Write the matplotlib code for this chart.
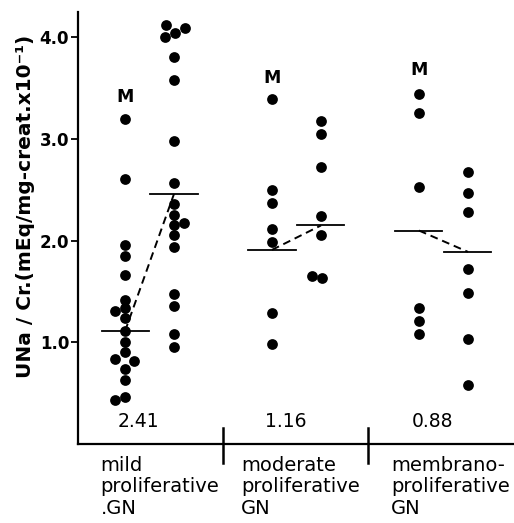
import matplotlib
matplotlib.use("Agg")
import matplotlib.pyplot as plt

# ---------------- data ----------------
groups = ["mild\nproliferative\n.GN", "moderate\nproliferative\nGN", "membrano-\nproliferative\nGN"]
ratios = ["2.41", "1.16", "0.88"]

mild_M = [3.20, 2.61, 1.96, 1.85, 1.66, 1.42, 1.34, 1.31, 1.24, 1.11, 1.00,
          0.91, 0.84, 0.82, 0.74, 0.63, 0.46, 0.43]
mild_M_jit = [0, 0, 0, 0, 0, 0, 0, -0.2, 0, 0, 0, 0, -0.2, 0.18, 0, 0, 0, -0.2]
mild_2 = [4.12, 4.09, 4.04, 4.00, 3.81, 3.58, 2.98, 2.57, 2.36, 2.25, 2.17,
          2.15, 2.06, 1.94, 1.48, 1.36, 1.08, 0.95]
mild_2_jit = [-0.16, 0.22, 0.02, -0.18, 0, 0, 0, 0, 0, 0, 0.2, 0, 0, 0, 0, 0, 0, 0]

moderate_M = [3.39, 2.50, 2.37, 2.12, 1.99, 1.29, 0.98]
moderate_M_jit = [0, 0, 0, 0, 0, 0, 0]
moderate_2 = [3.18, 3.05, 2.73, 2.24, 2.06, 1.65, 1.63]
moderate_2_jit = [0, 0, 0, 0, 0, -0.18, 0.02]

membrano_M = [3.44, 3.26, 2.53, 1.34, 1.21, 1.08]
membrano_M_jit = [0, 0, 0, 0, 0, 0]
membrano_2 = [2.68, 2.47, 2.28, 1.72, 1.49, 1.03, 0.58]
membrano_2_jit = [0, 0, 0, 0, 0, 0, 0]

mean_M = [1.11, 1.91, 2.10]
mean_2 = [2.46, 2.15, 1.89]

yticks = [1.0, 2.0, 3.0, 4.0]
ytick_labels = ["1.0", "2.0", "3.0", "4.0"]
ylabel = "UNa / Cr.(mEq/mg-creat.x10\u207b\u00b9)"

# ---------------- figure ----------------
plt.rcParams['font.family'] = ['DejaVu Sans']
fig = plt.figure(figsize=(5.14, 5.23), dpi=100)
W, H = 514, 523
ax = fig.add_axes([77.5 / W, (H - 444) / H, (W - 77.5) / W, (444 - 12) / H])
ax.set_xlim(0.03, 8.94)
ax.set_ylim(0, 4.25)

for s in ["top", "right"]:
    ax.spines[s].set_visible(False)
for s in ["left", "bottom"]:
    ax.spines[s].set_linewidth(1.6)
    ax.spines[s].set_color("black")

ax.set_xticks([])
ax.set_yticks(yticks)
ax.set_yticklabels(ytick_labels, fontsize=12, fontweight="bold")
ax.tick_params(axis="y", direction="out", length=5, width=1.3, pad=1)

series = [
    (1, mild_M, mild_M_jit), (2, mild_2, mild_2_jit),
    (4, moderate_M, moderate_M_jit), (5, moderate_2, moderate_2_jit),
    (7, membrano_M, membrano_M_jit), (8, membrano_2, membrano_2_jit),
]
for xc, vals, jit in series:
    ax.scatter([xc + j for j in jit], vals, s=60, color="black", linewidths=0, zorder=3)

for i in range(3):
    x1 = 1 + 3 * i
    x2 = x1 + 1
    ax.plot([x1 - 0.48, x1 + 0.48], [mean_M[i]] * 2, color="black", lw=1.3, zorder=2)
    ax.plot([x2 - 0.48, x2 + 0.48], [mean_2[i]] * 2, color="black", lw=1.3, zorder=2)
    ax.plot([x1, x2], [mean_M[i], mean_2[i]], color="black", lw=1.4,
            dashes=(4, 2.5), zorder=2)
    ax.text(x1, [3.41, 3.60, 3.68][i], "M", fontsize=12.5, fontweight="bold",
            ha="center", va="center")
    ax.text(x1 + 0.28, 0.22, ratios[i], fontsize=13.5, ha="center", va="center")
    ax.text([0.50, 3.37, 6.43][i], -0.115, groups[i], fontsize=14, ha="left",
            va="top", linespacing=1.17, clip_on=False)

for xd in [3.0, 5.96]:
    ax.plot([xd, xd], [0.16, -0.19], color="black", lw=1.8, clip_on=False)

fig.text(26 / W, 1 - 206 / H, ylabel, rotation=90, ha="center", va="center",
         fontsize=14.5, fontweight="bold")

fig.savefig("out.png", dpi=100)
